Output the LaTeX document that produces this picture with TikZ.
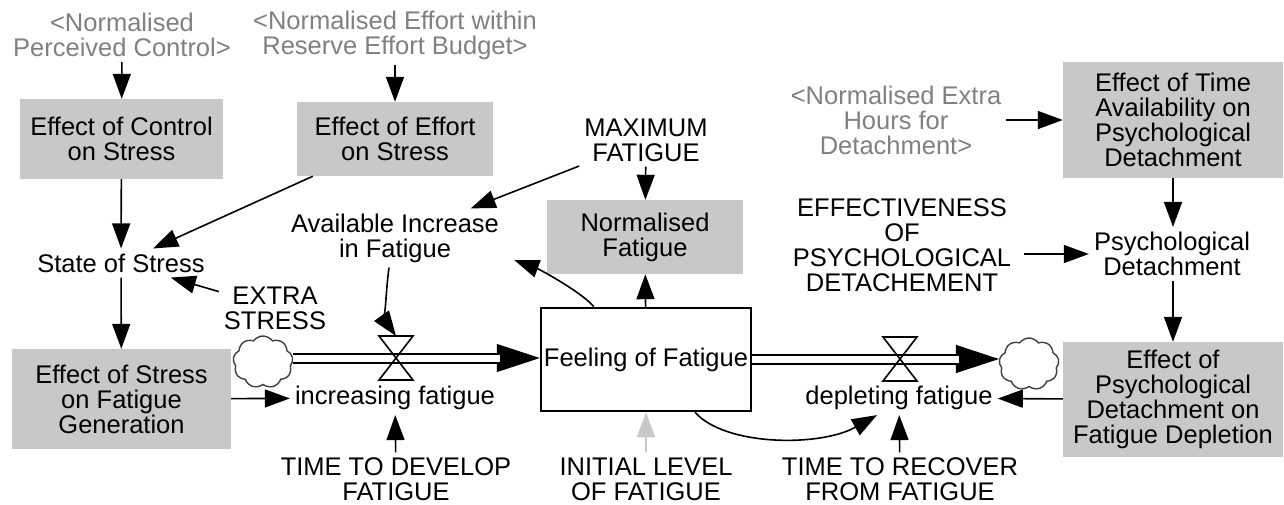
\documentclass[tikz,border=0pt]{standalone}
\usepackage{fontspec}
\setmainfont{Liberation Sans}
\usetikzlibrary{arrows.meta,shapes.symbols,calc}
\definecolor{auxfill}{RGB}{200,200,200}
\definecolor{shadowtext}{RGB}{128,128,128}
\begin{document}
\begin{tikzpicture}[x=1pt,y=1pt,
  every node/.style={font=\fontsize{25.5}{25}\selectfont, align=center, inner sep=5pt},
  aux/.style={fill=auxfill, inner sep=0pt},
  shadow/.style={text=shadowtext},
  stockbox/.style={draw, line width=2.5pt, minimum width=210pt, minimum height=103pt, inner sep=0pt},
  cloudy/.style={cloud, cloud puffs=9, cloud puff arc=110, aspect=1.15, draw=black!75, line width=1.4pt,
                 minimum width=60pt, minimum height=52pt, inner sep=0pt},
  valvebox/.style={minimum width=34pt, minimum height=44pt, inner sep=0pt, outer sep=0pt},
  lnk/.style={line width=1.6pt, -{Triangle[length=25pt,width=18pt]}},
  pipehead/.style={line width=1pt, -{Triangle[length=43pt,width=28pt]}},
  pipe/.style={line width=2pt, double=white, double distance=7pt, shorten >=40pt}]
\useasboundingbox (0,0) rectangle (1284,-504);

% auxiliaries and constants
\node[shadow] (gpc) at (122,-35) {<Normalised\\Perceived Control>};
\node[shadow] (gef) at (395,-35) {<Normalised Effort within\\Reserve Effort Budget>};
\node[aux, minimum width=203pt, minimum height=80pt] (ctl) at (121.5,-139) {Effect of Control\\on Stress};
\node[aux, minimum width=196pt, minimum height=74pt] (eff) at (395,-139) {Effect of Effort\\on Stress};
\node (maxf) at (646,-140) {MAXIMUM\\FATIGUE};
\node[shadow] (geh) at (896,-120) {<Normalised Extra\\Hours for\\Detachment>};
\node[aux, minimum width=220pt, minimum height=116pt] (tav) at (1173,-120) {Effect of Time\\Availability on\\Psychological\\Detachment};
\node (state) at (121,-263) {State of Stress};
\node (avail) at (395,-238) {Available Increase\\in Fatigue};
\node[aux, minimum width=196pt, minimum height=74pt] (normf) at (645,-237) {Normalised\\Fatigue};
\node (effec) at (902,-245) {EFFECTIVENESS\\OF\\PSYCHOLOGICAL\\DETACHEMENT};
\node (psych) at (1172,-254) {Psychological\\Detachment};
\node (extra) at (275,-308) {EXTRA\\STRESS};
\node[aux, minimum width=219pt, minimum height=100pt] (esf) at (121.5,-399) {Effect of Stress\\on Fatigue\\Generation};
\node (inc) at (395,-398) {increasing fatigue};
\node (dep) at (899,-398) {depleting fatigue};
\node[aux, minimum width=220pt, minimum height=115pt] (epd) at (1173,-399.5) {Effect of\\Psychological\\Detachment on\\Fatigue Depletion};
\node (ttd) at (396,-479) {TIME TO DEVELOP\\FATIGUE};
\node (init) at (646,-479) {INITIAL LEVEL\\OF FATIGUE};
\node (ttr) at (900,-479) {TIME TO RECOVER\\FROM FATIGUE};

% stock, sources/sinks and valves
\node[stockbox] (stock) at (646,-359.5) {Feeling of Fatigue};
\node[cloudy] (cl) at (263,-362) {};
\node[cloudy] (cr) at (1029,-364) {};
\node[valvebox] (vl) at (396,-358) {};
\node[valvebox] (vr) at (900,-359) {};

% flow pipes
\draw[pipehead] (vl -| cl.east) -- (vl -| stock.west);
\draw[pipe] (vl -| cl.east) -- (vl -| stock.west);
\draw[pipehead] (vr -| stock.east) -- (vr -| cr.west);
\draw[pipe] (vr -| stock.east) -- (vr -| cr.west);
\foreach \v in {vl,vr}
  \draw[line width=1.6pt, line join=miter] (\v.north west) -- (\v.north east) -- (\v.south west) -- (\v.south east) -- cycle;

% information links
\draw[lnk] (gpc) -- (ctl);
\draw[lnk] (gef) -- (eff);
\draw[lnk] (ctl) -- (state);
\draw[lnk] (eff) -- (state);
\draw[lnk] (extra) -- (state);
\draw[lnk] (state) -- (esf);
\draw[lnk] (esf) -- (inc);
\draw[lnk] ($(avail.south)+(-6,0)$) .. controls +(-4,-30) and +(-10,14) .. (vl.north);
\draw[lnk] (ttd) -- (inc);
\draw[lnk] (maxf) -- (normf);
\draw[lnk] (maxf) -- (avail);
\draw[lnk] (stock) -- (normf);
\draw[lnk] ($(stock.north west)+(54,0)$) .. controls +(-10,13) and +(27,-10) .. ($(avail.east)+(10,-22)$);
\draw[lnk] ($(stock.south)+(49,0)$) .. controls +(30,-34) and +(-57,-32) .. ($(dep.south)+(-22,0)$);
\draw[lnk, color=auxfill] (init) -- (stock);
\draw[lnk] (ttr) -- (dep);
\draw[lnk] (epd) -- (dep);
\draw[lnk] (psych.south -| tav.south) -- (epd.north);
\draw[lnk] (tav) -- (tav.south |- psych.north);
\draw[lnk, shorten <=8pt] (effec.east |- psych.west) -- (psych.west);
\draw[lnk] (geh) -- (tav);
\end{tikzpicture}
\end{document}
